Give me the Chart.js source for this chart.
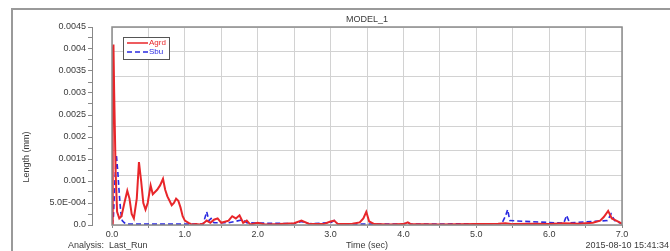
<!DOCTYPE html>
<html>
<head>
<meta charset="utf-8">
<script src="https://cdn.jsdelivr.net/npm/chart.js@4"></script>
<style>
  html, body { margin: 0; padding: 0; background: #fff; }
  canvas { display: block; }
</style>
</head>
<body>
<canvas id="lenChart" width="670" height="251"></canvas>
<script>
// ===== DATA =====
const agrdTime = [0.0, 0.01, 0.02, 0.03, 0.05, 0.07, 0.10, 0.13, 0.17, 0.21, 0.24, 0.27, 0.30, 0.34, 0.37, 0.40,
    0.43, 0.46, 0.49, 0.53, 0.56, 0.59, 0.62, 0.66, 0.70, 0.73, 0.76, 0.79, 0.82, 0.85, 0.88, 0.91, 0.94, 0.97,
    1.00, 1.05, 1.10, 1.15, 1.20, 1.25, 1.30, 1.35, 1.40, 1.45, 1.50, 1.60, 1.65, 1.70, 1.75, 1.80, 1.85, 1.90,
    2.00, 2.10, 2.30, 2.50, 2.60, 2.70, 2.90, 3.00, 3.05, 3.10, 3.30, 3.40, 3.45, 3.49, 3.53, 3.60, 3.80, 4.00,
    4.06, 4.10, 4.50, 5.00, 5.30, 5.40, 5.50, 5.80, 6.00, 6.20, 6.40, 6.60, 6.70, 6.75, 6.81, 6.86, 6.92, 7.00];
const agrdLength = [0.0, 0.0040, 0.0041, 0.0030, 0.0012, 0.0003, 0.00015, 0.0002, 0.0005, 0.00078, 0.0006, 0.00025, 0.00015, 0.0006, 0.00143, 0.0010,
    0.0005, 0.00035, 0.0005, 0.0009, 0.0007, 0.00075, 0.0008, 0.0009, 0.00105, 0.0008, 0.00065, 0.00055, 0.00045, 0.0005, 0.0006, 0.00055, 0.0004, 0.0002,
    0.0001, 0.00005, 0.00001, 0.00002, 0.00001, 0.00003, 0.0001, 0.00005, 0.00012, 0.00015, 0.00005, 0.0001, 0.0002, 0.00015, 0.00022, 0.00005, 0.0001, 0.00001,
    0.00005, 0.00001, 0.00002, 0.00004, 0.0001, 0.00003, 0.00002, 0.00008, 0.0001, 0.00002, 0.00003, 0.00006, 0.00015, 0.0003, 0.00008, 0.00002, 0.00001, 0.00002,
    0.00006, 0.00002, 0.00001, 0.00002, 0.00003, 0.00004, 0.00002, 0.00003, 0.00002, 0.00004, 0.00003, 0.00005, 0.0001, 0.00018, 0.00032, 0.00015, 0.0001, 0.00003];

const sbuTime = [0.0, 0.02, 0.04, 0.06, 0.08, 0.10, 0.12, 0.14, 0.17, 0.20, 0.60, 1.00, 1.25, 1.30, 1.33, 1.36, 1.40,
    1.60, 1.80, 1.85, 2.50, 2.60, 2.70, 3.00, 3.05, 3.10, 4.00, 4.05, 4.10, 5.35, 5.40, 5.43, 5.46, 6.20, 6.24, 6.28,
    6.80, 6.85, 6.90, 7.00];
const sbuLength = [0.0, 0.0002, 0.0010, 0.0016, 0.0012, 0.0007, 0.0003, 0.0001, 0.00005, 0.00002, 0.00002, 0.00002, 0.00002, 0.0003, 0.0001, 0.00015, 0.00005,
    0.00005, 0.00012, 0.00005, 0.00003, 0.00008, 0.00003, 0.00005, 0.0001, 0.00002, 0.00002, 0.00006, 0.00002, 0.00003, 0.0002, 0.00035, 0.0001, 0.00004, 0.00022, 0.00005,
    0.0001, 0.00025, 0.0001, 0.00003];

const seriesNames = ['Agrd', 'Sbu'];
const yTickLabels = ['0.0', '5.0E-004', '0.001', '0.0015', '0.002', '0.0025', '0.003', '0.0035', '0.004', '0.0045'];
const xTickLabels = ['0.0', '1.0', '2.0', '3.0', '4.0', '5.0', '6.0', '7.0'];
const chartTitle = 'MODEL_1';
const yTitle = 'Length (mm)';
const xTitle = 'Time (sec)';
const footLeft = 'Analysis:  Last_Run';
const footRight = '2015-08-10 15:41:34';

const FONT = "'Liberation Sans', Arial, sans-serif";
const TXT = '#3a3a3a';

function toPoints(xs, ys) {
    return xs.map((x, i) => ({ x: x, y: ys[i] }));
}

// ===== PLUGINS =====
const framePlugin = {
    id: 'frame',
    beforeDraw(chart) {
        const c = chart.ctx;
        c.save();
        c.fillStyle = '#fff';
        c.fillRect(0, 0, chart.width, chart.height);
        c.strokeStyle = '#9a9a9a';
        c.lineWidth = 2;
        c.beginPath();
        c.moveTo(12, chart.height);
        c.lineTo(12, 9);
        c.lineTo(chart.width, 9);
        c.stroke();
        c.restore();
    },
    afterDraw(chart) {
        const c = chart.ctx;
        const a = chart.chartArea;
        c.save();
        // plot box
        c.strokeStyle = '#8c8c8c';
        c.lineWidth = 1.5;
        c.strokeRect(a.left, a.top, a.right - a.left, a.bottom - a.top);

        // title
        c.fillStyle = TXT;
        c.font = '9px ' + FONT;
        c.textAlign = 'center';
        c.textBaseline = 'middle';
        c.fillText(chartTitle, (a.left + a.right) / 2, 20);

        // footer
        c.textAlign = 'left';
        c.fillText(footLeft, 68, 246);
        c.textAlign = 'right';
        c.fillText(footRight, 669, 246);

        // y title
        c.save();
        c.translate(27, 157);
        c.rotate(-Math.PI / 2);
        c.textAlign = 'center';
        c.fillText(yTitle, 0, 0);
        c.restore();

        // legend
        const lx = 123, ly = 37, lw = 46, lh = 22;
        c.font = '8px ' + FONT;
        c.fillStyle = '#fff';
        c.fillRect(lx, ly, lw, lh);
        c.strokeStyle = '#555';
        c.lineWidth = 1;
        c.strokeRect(lx + 0.5, ly + 0.5, lw, lh);
        chart.data.datasets.forEach((ds, i) => {
            const yy = ly + 6 + i * 9;
            c.strokeStyle = ds.borderColor;
            c.lineWidth = 1.5;
            c.setLineDash(ds.borderDash || []);
            c.beginPath();
            c.moveTo(lx + 4, yy);
            c.lineTo(lx + 25, yy);
            c.stroke();
            c.setLineDash([]);
            c.fillStyle = ds.borderColor;
            c.textAlign = 'left';
            c.fillText(ds.label, lx + 26, yy);
        });
        c.restore();
    }
};

// ===== CHART =====
new Chart(document.getElementById('lenChart'), {
    type: 'line',
    data: {
        datasets: [{
            label: seriesNames[0],
            data: toPoints(agrdTime, agrdLength),
            borderColor: '#e8262a',
            borderWidth: 2,
            pointRadius: 0,
            tension: 0,
            fill: false
        }, {
            label: seriesNames[1],
            data: toPoints(sbuTime, sbuLength),
            borderColor: '#2a2ae0',
            borderWidth: 1.6,
            borderDash: [5, 3],
            pointRadius: 0,
            tension: 0,
            fill: false
        }]
    },
    options: {
        responsive: false,
        animation: false,
        devicePixelRatio: 1,
        layout: { padding: { left: 32, right: 48, top: 27, bottom: 0 } },
        plugins: {
            legend: { display: false },
            tooltip: { enabled: false }
        },
        scales: {
            x: {
                type: 'linear',
                min: 0,
                max: 7,
                ticks: {
                    stepSize: 0.5,
                    autoSkip: false,
                    maxRotation: 0,
                    padding: 1,
                    color: TXT,
                    font: { size: 9, family: FONT },
                    callback: function(v) {
                        const k = Math.round(v * 2);
                        return k % 2 === 0 ? xTickLabels[k / 2] : '';
                    }
                },
                grid: { color: '#d2d2d2', lineWidth: 1, drawTicks: true, tickLength: 3, tickColor: '#888' },
                border: { display: false },
                title: { display: true, text: xTitle, color: TXT, font: { size: 9, family: FONT }, padding: { top: 0, bottom: 0 } },
                afterFit: function(s) { s.height = 26; }
            },
            y: {
                type: 'linear',
                position: 'left',
                weight: 1,
                min: 0,
                max: 0.0045,
                ticks: {
                    stepSize: 0.00025,
                    autoSkip: false,
                    padding: 2,
                    color: TXT,
                    font: { size: 9, family: FONT },
                    callback: function(v) {
                        const k = Math.round(v / 0.00025);
                        return k % 2 === 0 ? yTickLabels[k / 2] : '';
                    }
                },
                grid: { drawOnChartArea: false, drawTicks: true, tickLength: 4, tickColor: '#888' },
                border: { display: true, color: '#888' },
                afterFit: function(s) { s.width = 60; }
            },
            ySpace: {
                type: 'linear',
                position: 'left',
                weight: 0,
                ticks: { display: false },
                grid: { display: false },
                border: { display: false },
                afterFit: function(s) { s.width = 20; }
            },
            yGrid: {
                type: 'linear',
                position: 'right',
                min: 0,
                max: 8,
                ticks: { display: false, stepSize: 1 },
                grid: { color: '#d2d2d2', drawTicks: false },
                border: { display: false },
                afterFit: function(s) { s.width = 0; }
            }
        }
    },
    plugins: [framePlugin]
});
</script>
</body>
</html>
